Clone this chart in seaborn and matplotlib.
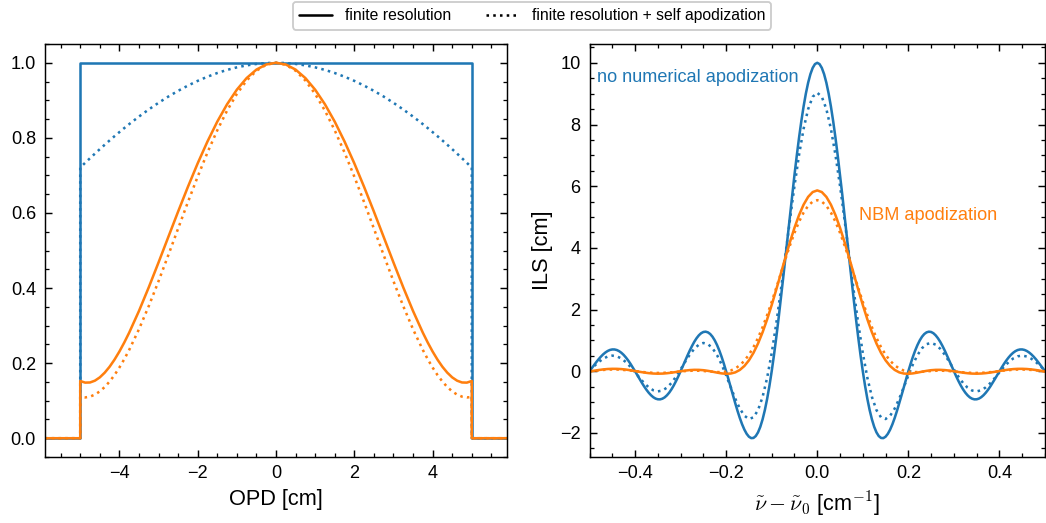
import matplotlib
matplotlib.use("Agg")
import matplotlib.pyplot as plt
import seaborn as sns
from matplotlib.lines import Line2D
from matplotlib.ticker import MultipleLocator, AutoMinorLocator

# ---------------- data ----------------
# left panel: apodization functions vs OPD [cm]
opd = [-5.9, -5.0,
       -5.0, -4.875, -4.75, -4.625, -4.5, -4.375, -4.25, -4.125, -4.0, -3.875,
       -3.75, -3.5, -3.25, -3.0, -2.75, -2.5, -2.25, -2.0, -1.75, -1.5,
       -1.25, -1.0, -0.75, -0.5, -0.25,
       0.0,
       0.25, 0.5, 0.75, 1.0, 1.25, 1.5, 1.75, 2.0, 2.25, 2.5,
       2.75, 3.0, 3.25, 3.5, 3.75, 3.875, 4.0, 4.125, 4.25, 4.375,
       4.5, 4.625, 4.75, 4.875, 5.0,
       5.0, 5.9]
boxcar = [0.0, 0.0,
          1.0, 1.0, 1.0, 1.0, 1.0, 1.0, 1.0, 1.0, 1.0, 1.0,
          1.0, 1.0, 1.0, 1.0, 1.0, 1.0, 1.0, 1.0, 1.0, 1.0,
          1.0, 1.0, 1.0, 1.0, 1.0,
          1.0,
          1.0, 1.0, 1.0, 1.0, 1.0, 1.0, 1.0, 1.0, 1.0, 1.0,
          1.0, 1.0, 1.0, 1.0, 1.0, 1.0, 1.0, 1.0, 1.0, 1.0,
          1.0, 1.0, 1.0, 1.0, 1.0,
          0.0, 0.0]
self_apod = [0.0, 0.0,
             0.7209, 0.7335, 0.7458, 0.7580, 0.7699, 0.7816, 0.7931, 0.8044, 0.8153, 0.8261,
             0.8366, 0.8567, 0.8756, 0.8934, 0.9100, 0.9252, 0.9392, 0.9518, 0.9629, 0.9727,
             0.9810, 0.9878, 0.9931, 0.9969, 0.9992,
             1.0000,
             0.9992, 0.9969, 0.9931, 0.9878, 0.9810, 0.9727, 0.9629, 0.9518, 0.9392, 0.9252,
             0.9100, 0.8934, 0.8756, 0.8567, 0.8366, 0.8261, 0.8153, 0.8044, 0.7931, 0.7816,
             0.7699, 0.7580, 0.7458, 0.7335, 0.7209,
             0.0, 0.0]
nbm = [0.0, 0.0,
       0.1524, 0.1481, 0.1485, 0.1533, 0.1621, 0.1746, 0.1904, 0.2093, 0.2309, 0.2550,
       0.2812, 0.3389, 0.4019, 0.4682, 0.5361, 0.6037, 0.6695, 0.7322, 0.7904, 0.8432,
       0.8894, 0.9283, 0.9593, 0.9818, 0.9954,
       1.0000,
       0.9954, 0.9818, 0.9593, 0.9283, 0.8894, 0.8432, 0.7904, 0.7322, 0.6695, 0.6037,
       0.5361, 0.4682, 0.4019, 0.3389, 0.2812, 0.2550, 0.2309, 0.2093, 0.1904, 0.1746,
       0.1621, 0.1533, 0.1485, 0.1481, 0.1524,
       0.0, 0.0]
nbm_self = [0.0, 0.0,
            0.1099, 0.1086, 0.1108, 0.1162, 0.1248, 0.1364, 0.1510, 0.1683, 0.1883, 0.2106,
            0.2352, 0.2903, 0.3519, 0.4183, 0.4878, 0.5585, 0.6288, 0.6968, 0.7611, 0.8201,
            0.8725, 0.9170, 0.9527, 0.9788, 0.9947,
            1.0000,
            0.9947, 0.9788, 0.9527, 0.9170, 0.8725, 0.8201, 0.7611, 0.6968, 0.6288, 0.5585,
            0.4878, 0.4183, 0.3519, 0.2903, 0.2352, 0.2106, 0.1883, 0.1683, 0.1510, 0.1364,
            0.1248, 0.1162, 0.1108, 0.1086, 0.1099,
            0.0, 0.0]

# right panel: instrument line shapes vs wavenumber offset [cm^-1]
nu_fine = [-0.500, -0.495, -0.490, -0.485, -0.480, -0.475, -0.470, -0.465, -0.460, -0.455,
           -0.450, -0.445, -0.440, -0.435, -0.430, -0.425, -0.420, -0.415, -0.410, -0.405,
           -0.400, -0.395, -0.390, -0.385, -0.380, -0.375, -0.370, -0.365, -0.360, -0.355,
           -0.350, -0.345, -0.340, -0.335, -0.330, -0.325, -0.320, -0.315, -0.310, -0.305,
           -0.300, -0.295, -0.290, -0.285, -0.280, -0.275, -0.270, -0.265, -0.260, -0.255,
           -0.250, -0.245, -0.240, -0.235, -0.230, -0.225, -0.220, -0.215, -0.210, -0.205,
           -0.200, -0.195, -0.190, -0.185, -0.180, -0.175, -0.170, -0.165, -0.160, -0.155,
           -0.150, -0.145, -0.140, -0.135, -0.130, -0.125, -0.120, -0.115, -0.110, -0.105,
           -0.100, -0.095, -0.090, -0.085, -0.080, -0.075, -0.070, -0.065, -0.060, -0.055,
           -0.050, -0.045, -0.040, -0.035, -0.030, -0.025, -0.020, -0.015, -0.010, -0.005,
           0.000,
           0.005, 0.010, 0.015, 0.020, 0.025, 0.030, 0.035, 0.040, 0.045, 0.050,
           0.055, 0.060, 0.065, 0.070, 0.075, 0.080, 0.085, 0.090, 0.095, 0.100,
           0.105, 0.110, 0.115, 0.120, 0.125, 0.130, 0.135, 0.140, 0.145, 0.150,
           0.155, 0.160, 0.165, 0.170, 0.175, 0.180, 0.185, 0.190, 0.195, 0.200,
           0.205, 0.210, 0.215, 0.220, 0.225, 0.230, 0.235, 0.240, 0.245, 0.250,
           0.255, 0.260, 0.265, 0.270, 0.275, 0.280, 0.285, 0.290, 0.295, 0.300,
           0.305, 0.310, 0.315, 0.320, 0.325, 0.330, 0.335, 0.340, 0.345, 0.350,
           0.355, 0.360, 0.365, 0.370, 0.375, 0.380, 0.385, 0.390, 0.395, 0.400,
           0.405, 0.410, 0.415, 0.420, 0.425, 0.430, 0.435, 0.440, 0.445, 0.450,
           0.455, 0.460, 0.465, 0.470, 0.475, 0.480, 0.485, 0.490, 0.495, 0.500]
ils_boxcar = [0.000, 0.101, 0.201, 0.298, 0.390, 0.474, 0.548, 0.610, 0.658, 0.691,
              0.707, 0.706, 0.688, 0.652, 0.599, 0.530, 0.445, 0.348, 0.240, 0.123,
              0.000, -0.126, -0.252, -0.375, -0.492, -0.600, -0.696, -0.777, -0.841, -0.886,
              -0.909, -0.911, -0.890, -0.847, -0.780, -0.693, -0.585, -0.459, -0.317, -0.163,
              0.000, 0.169, 0.339, 0.507, 0.668, 0.818, 0.954, 1.070, 1.164, 1.233,
              1.273, 1.283, 1.261, 1.207, 1.120, 1.000, 0.850, 0.672, 0.468, 0.243,
              0.000, -0.255, -0.518, -0.781, -1.039, -1.286, -1.515, -1.719, -1.892, -2.028,
              -2.122, -2.168, -2.162, -2.101, -1.981, -1.801, -1.559, -1.257, -0.894, -0.474,
              0.000, 0.524, 1.093, 1.700, 2.339, 3.001, 3.679, 4.363, 5.046, 5.716,
              6.366, 6.986, 7.568, 8.103, 8.584, 9.003, 9.355, 9.634, 9.836, 9.959,
              10.000,
              9.959, 9.836, 9.634, 9.355, 9.003, 8.584, 8.103, 7.568, 6.986, 6.366,
              5.716, 5.046, 4.363, 3.679, 3.001, 2.339, 1.700, 1.093, 0.524, 0.000,
              -0.474, -0.894, -1.257, -1.559, -1.801, -1.981, -2.101, -2.162, -2.168, -2.122,
              -2.028, -1.892, -1.719, -1.515, -1.286, -1.039, -0.781, -0.518, -0.255, 0.000,
              0.243, 0.468, 0.672, 0.850, 1.000, 1.120, 1.207, 1.261, 1.283, 1.273,
              1.233, 1.164, 1.070, 0.954, 0.818, 0.668, 0.507, 0.339, 0.169, 0.000,
              -0.163, -0.317, -0.459, -0.585, -0.693, -0.780, -0.847, -0.890, -0.911, -0.909,
              -0.886, -0.841, -0.777, -0.696, -0.600, -0.492, -0.375, -0.252, -0.126, 0.000,
              0.123, 0.240, 0.348, 0.445, 0.530, 0.599, 0.652, 0.688, 0.706, 0.707,
              0.691, 0.658, 0.610, 0.548, 0.474, 0.390, 0.298, 0.201, 0.101, 0.000]

nu = [-0.50, -0.49, -0.48, -0.47, -0.46, -0.45, -0.44, -0.43, -0.42, -0.41,
      -0.40, -0.39, -0.38, -0.37, -0.36, -0.35, -0.34, -0.33, -0.32, -0.31,
      -0.30, -0.29, -0.28, -0.27, -0.26, -0.25, -0.24, -0.23, -0.22, -0.21,
      -0.20, -0.19, -0.18, -0.17, -0.16, -0.15, -0.14, -0.13, -0.12, -0.11,
      -0.10, -0.09, -0.08, -0.07, -0.06, -0.05, -0.04, -0.03, -0.02, -0.01,
      0.00, 0.01, 0.02, 0.03, 0.04, 0.05, 0.06, 0.07, 0.08, 0.09,
      0.10, 0.11, 0.12, 0.13, 0.14, 0.15, 0.16, 0.17, 0.18, 0.19,
      0.20, 0.21, 0.22, 0.23, 0.24, 0.25, 0.26, 0.27, 0.28, 0.29,
      0.30, 0.31, 0.32, 0.33, 0.34, 0.35, 0.36, 0.37, 0.38, 0.39,
      0.40, 0.41, 0.42, 0.43, 0.44, 0.45, 0.46, 0.47, 0.48, 0.49,
      0.50]
ils_boxcar_self = [0.021, 0.165, 0.298, 0.406, 0.479, 0.507, 0.485, 0.413, 0.295, 0.142,
                   -0.033, -0.214, -0.383, -0.522, -0.616, -0.653, -0.625, -0.532, -0.378, -0.176,
                   0.059, 0.304, 0.535, 0.729, 0.862, 0.917, 0.880, 0.748, 0.524, 0.223,
                   -0.134, -0.516, -0.888, -1.210, -1.442, -1.548, -1.494, -1.260, -0.832, -0.211,
                   0.591, 1.546, 2.616, 3.754, 4.905, 6.010, 7.012, 7.860, 8.500, 8.899,
                   9.030, 8.899, 8.500, 7.860, 7.012, 6.010, 4.905, 3.754, 2.616, 1.546,
                   0.591, -0.211, -0.832, -1.260, -1.494, -1.548, -1.442, -1.210, -0.888, -0.516,
                   -0.134, 0.223, 0.524, 0.748, 0.880, 0.917, 0.862, 0.729, 0.535, 0.304,
                   0.059, -0.176, -0.378, -0.532, -0.625, -0.653, -0.616, -0.522, -0.383, -0.214,
                   -0.033, 0.142, 0.295, 0.413, 0.485, 0.507, 0.479, 0.406, 0.298, 0.165,
                   0.021]
ils_nbm = [-0.007, 0.017, 0.040, 0.059, 0.073, 0.079, 0.078, 0.070, 0.054, 0.032,
           0.008, -0.018, -0.041, -0.061, -0.074, -0.079, -0.076, -0.064, -0.046, -0.024,
           -0.001, 0.021, 0.038, 0.046, 0.045, 0.034, 0.013, -0.014, -0.044, -0.069,
           -0.083, -0.074, -0.036, 0.043, 0.170, 0.353, 0.596, 0.900, 1.264, 1.683,
           2.148, 2.647, 3.164, 3.683, 4.185, 4.651, 5.062, 5.401, 5.654, 5.810,
           5.863, 5.810, 5.654, 5.401, 5.062, 4.651, 4.185, 3.683, 3.164, 2.647,
           2.148, 1.683, 1.264, 0.900, 0.596, 0.353, 0.170, 0.043, -0.036, -0.074,
           -0.083, -0.069, -0.044, -0.014, 0.013, 0.034, 0.045, 0.046, 0.038, 0.021,
           -0.001, -0.024, -0.046, -0.064, -0.076, -0.079, -0.074, -0.061, -0.041, -0.018,
           0.008, 0.032, 0.054, 0.070, 0.078, 0.079, 0.073, 0.059, 0.040, 0.017,
           -0.007]
ils_nbm_self = [-0.004, 0.013, 0.029, 0.043, 0.052, 0.057, 0.056, 0.049, 0.036, 0.023,
                0.005, -0.012, -0.029, -0.042, -0.051, -0.055, -0.053, -0.046, -0.035, -0.021,
                -0.007, 0.006, 0.015, 0.019, 0.017, 0.009, -0.003, -0.016, -0.026, -0.028,
                -0.014, 0.023, 0.089, 0.193, 0.340, 0.536, 0.783, 1.081, 1.429, 1.821,
                2.249, 2.703, 3.169, 3.633, 4.078, 4.488, 4.848, 5.144, 5.365, 5.501,
                5.547, 5.501, 5.365, 5.144, 4.848, 4.488, 4.078, 3.633, 3.169, 2.703,
                2.249, 1.821, 1.429, 1.081, 0.783, 0.536, 0.340, 0.193, 0.089, 0.023,
                -0.014, -0.028, -0.026, -0.016, -0.003, 0.009, 0.017, 0.019, 0.015, 0.006,
                -0.007, -0.021, -0.035, -0.046, -0.053, -0.055, -0.051, -0.042, -0.029, -0.012,
                0.005, 0.023, 0.036, 0.049, 0.056, 0.057, 0.052, 0.043, 0.029, 0.013,
                -0.004]

legend_labels = ["finite resolution", "finite resolution + self apodization"]
annotations = ["no numerical apodization", "NBM apodization"]
left_xlabel = "OPD [cm]"
right_xlabel = r"$\tilde{\nu} - \tilde{\nu}_0$ [cm$^{-1}$]"
right_ylabel = "ILS [cm]"

# ---------------- style ----------------
sns.set_theme(style="ticks")
plt.rcParams.update({
    "font.family": ["Liberation Sans", "DejaVu Sans"],
    "mathtext.fontset": "cm",
    "axes.edgecolor": "black",
    "axes.labelcolor": "black",
    "text.color": "black",
    "xtick.color": "black",
    "ytick.color": "black",
    "axes.linewidth": 0.8,
    "xtick.direction": "in",
    "ytick.direction": "in",
    "xtick.top": True,
    "ytick.right": True,
    "xtick.major.size": 3.8,
    "ytick.major.size": 3.8,
    "xtick.minor.size": 2.2,
    "ytick.minor.size": 2.2,
    "xtick.major.width": 0.8,
    "ytick.major.width": 0.8,
    "xtick.minor.width": 0.7,
    "ytick.minor.width": 0.7,
    "xtick.major.pad": 4.5,
    "ytick.major.pad": 5.0,
    "xtick.labelsize": 10,
    "ytick.labelsize": 10,
    "axes.labelsize": 12,
})

BLUE = "#1f77b4"
ORANGE = "#ff7f0e"
LW = 1.4

fig = plt.figure(figsize=(8, 4), dpi=130.75)
W, H = 1046.0, 523.0
ax1 = fig.add_axes([45 / W, 66 / H, 462 / W, 413 / H])
ax2 = fig.add_axes([589.5 / W, 66 / H, 455.5 / W, 413 / H])

common = dict(estimator=None, sort=False, linewidth=LW)

# left panel
sns.lineplot(x=opd, y=boxcar, ax=ax1, color=BLUE, linestyle="-", **common)
sns.lineplot(x=opd, y=self_apod, ax=ax1, color=BLUE, linestyle=":", **common)
sns.lineplot(x=opd, y=nbm, ax=ax1, color=ORANGE, linestyle="-", **common)
sns.lineplot(x=opd, y=nbm_self, ax=ax1, color=ORANGE, linestyle=":", **common)

ax1.set_xlim(-5.9, 5.9)
ax1.set_ylim(-0.05, 1.05)
ax1.xaxis.set_major_locator(MultipleLocator(2))
ax1.yaxis.set_major_locator(MultipleLocator(0.2))
ax1.xaxis.set_minor_locator(AutoMinorLocator(4))
ax1.yaxis.set_minor_locator(AutoMinorLocator(4))
ax1.set_xlabel(left_xlabel)
ax1.set_ylabel("")

# right panel
sns.lineplot(x=nu_fine, y=ils_boxcar, ax=ax2, color=BLUE, linestyle="-", **common)
sns.lineplot(x=nu, y=ils_boxcar_self, ax=ax2, color=BLUE, linestyle=":", **common)
sns.lineplot(x=nu, y=ils_nbm, ax=ax2, color=ORANGE, linestyle="-", **common)
sns.lineplot(x=nu, y=ils_nbm_self, ax=ax2, color=ORANGE, linestyle=":", **common)

ax2.set_xlim(-0.5, 0.5)
ax2.set_ylim(-2.78, 10.61)
ax2.xaxis.set_major_locator(MultipleLocator(0.2))
ax2.yaxis.set_major_locator(MultipleLocator(2))
ax2.xaxis.set_minor_locator(AutoMinorLocator(4))
ax2.yaxis.set_minor_locator(AutoMinorLocator(4))
ax2.set_xlabel(right_xlabel)
ax2.set_ylabel(right_ylabel)

ax2.text(-0.483, 9.53, annotations[0], color=BLUE, fontsize=10,
         ha="left", va="center")
ax2.text(0.092, 5.05, annotations[1], color=ORANGE, fontsize=10,
         ha="left", va="center")

for ax in (ax1, ax2):
    ax.tick_params(which="both", top=True, right=True, direction="in")

handles = [Line2D([], [], color="black", lw=LW, ls="-"),
           Line2D([], [], color="black", lw=LW, ls=":")]
fig.legend(handles, legend_labels, loc="upper center",
           bbox_to_anchor=(532 / W, 1 - 2 / H), ncol=2, fontsize=8.7,
           frameon=True, fancybox=True, framealpha=1.0, edgecolor="#cccccc",
           borderaxespad=0.0, columnspacing=2.2, handlelength=2.1)

fig.savefig("out.png", dpi=130.75)
